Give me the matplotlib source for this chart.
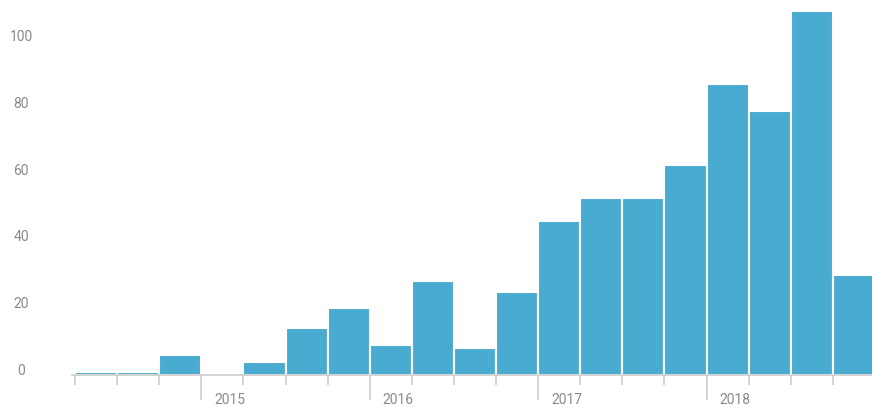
import numpy as np
import matplotlib
matplotlib.use("Agg")
import matplotlib.pyplot as plt

# quarterly counts, 2014 Q2 .. 2018 Q4
quarters = ["2014Q2", "2014Q3", "2014Q4",
            "2015Q1", "2015Q2", "2015Q3", "2015Q4",
            "2016Q1", "2016Q2", "2016Q3", "2016Q4",
            "2017Q1", "2017Q2", "2017Q3", "2017Q4",
            "2018Q1", "2018Q2", "2018Q3", "2018Q4"]
counts = [1, 1, 6, 0, 4, 14, 20, 9, 28, 8, 25, 46, 53, 53, 63, 87, 79, 109, 30]
years = ["2015", "2016", "2017", "2018"]
y_ticks = [0, 20, 40, 60, 80, 100]

bar_color = "#4aabd1"
text_color = "#8a8a8a"
line_color = "#cccccc"

plt.rcParams['font.family'] = ['Roboto', 'DejaVu Sans']

fig = plt.figure(figsize=(8.72, 4.08), dpi=100)
ax = fig.add_axes([72 / 872, 33 / 408, 800 / 872, 375 / 408])

x = np.arange(len(counts))
ax.bar(x, counts, width=1.0, align="edge", color=bar_color,
       edgecolor="white", linewidth=1.5, zorder=2)

ax.set_xlim(-3 / 42.1, 797 / 42.1)
ax.set_ylim(0, 375 / 3.34)

for s in ["top", "right", "left"]:
    ax.spines[s].set_visible(False)
ax.spines["bottom"].set_color(line_color)
ax.spines["bottom"].set_linewidth(1.2)

# quarter ticks short, year ticks long
year_pos = [i for i, q in enumerate(quarters) if q.endswith("Q1")]
minor_pos = [i for i in range(len(quarters)) if i not in year_pos]
ax.set_xticks(year_pos)
ax.set_xticks(minor_pos, minor=True)
ax.tick_params(axis="x", which="major", length=18, width=1.2,
               color=line_color, labelbottom=False)
ax.tick_params(axis="x", which="minor", length=7.5, width=1.2,
               color=line_color, labelbottom=False)
ax.set_yticks([])

for pos, yr in zip(year_pos, years):
    ax.annotate(yr, xy=(pos, 0), xycoords=("data", "axes fraction"),
                xytext=(13, -25), textcoords="offset pixels",
                ha="left", va="center", fontsize=10, color=text_color)

for v in y_ticks:
    ax.annotate(str(v), xy=(0, v), xycoords=("axes fraction", "data"),
                xytext=(-51, 4), textcoords="offset pixels",
                ha="center", va="center", fontsize=10, color=text_color)

fig.savefig("out.png", dpi=100)
